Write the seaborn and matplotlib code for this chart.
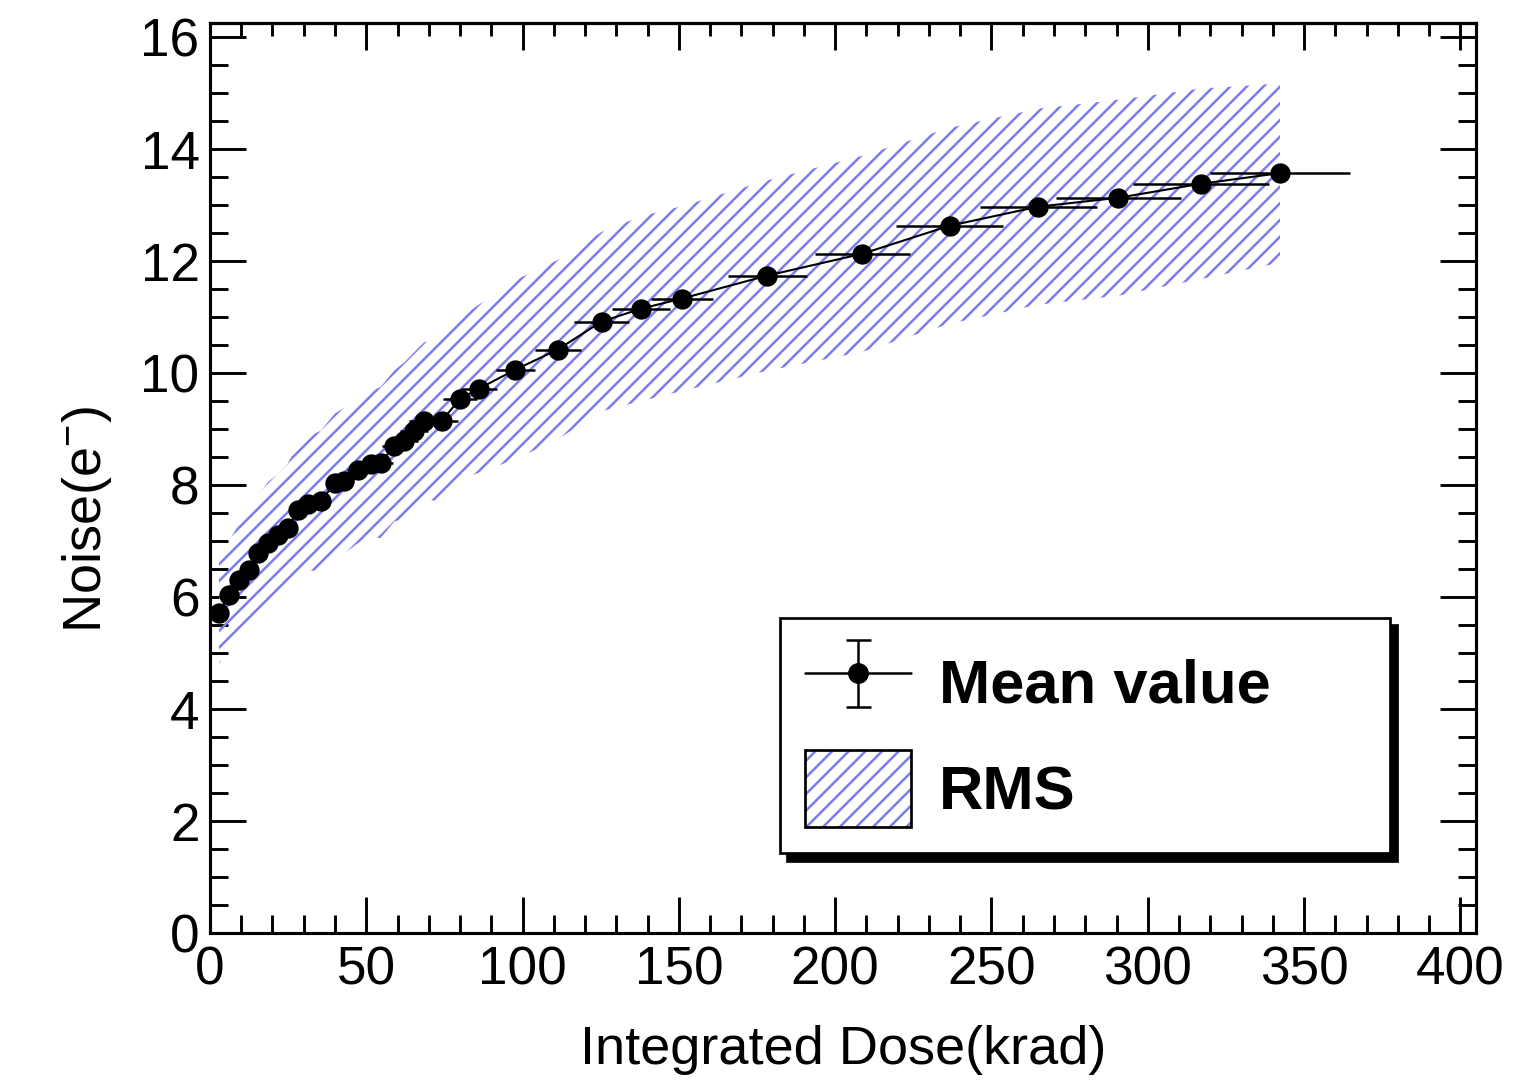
import numpy as np
import pandas as pd
import matplotlib
matplotlib.use("Agg")
import matplotlib.pyplot as plt
import seaborn as sns
from matplotlib.patches import Patch
from matplotlib.legend_handler import HandlerTuple, HandlerErrorbar
from matplotlib.container import ErrorbarContainer
from matplotlib.ticker import MultipleLocator

# ---- data ----
dose = [2.9, 6.0, 9.2, 12.4, 15.5, 18.7, 21.9, 25.0, 28.2, 31.4, 35.5, 40.0,
        43.0, 47.3, 51.4, 54.6, 59.0, 62.2, 65.3, 68.5, 74.2, 80.0, 86.0,
        97.7, 111.3, 125.3, 138.0, 151.0, 178.3, 208.7, 236.6, 264.9, 290.6,
        317.0, 342.3]
noise = [5.71, 6.03, 6.30, 6.48, 6.78, 6.96, 7.10, 7.24, 7.55, 7.67, 7.72, 8.03,
         8.08, 8.26, 8.38, 8.40, 8.70, 8.79, 8.97, 9.15, 9.15, 9.54, 9.72,
         10.06, 10.42, 10.92, 11.15, 11.33, 11.74, 12.13, 12.63, 12.97, 13.13,
         13.38, 13.57]
dose_err = [0.2, 0.4, 0.6, 0.9, 1.1, 1.3, 1.5, 1.7, 2.0, 2.2, 2.5, 2.8,
            3.0, 3.3, 3.6, 3.8, 4.1, 4.4, 4.6, 4.8, 5.2, 5.5, 5.8,
            6.3, 7.4, 8.9, 9.3, 10.0, 12.6, 15.2, 17.0, 18.7, 20.0,
            21.7, 22.5]
noise_err = [0.05] * 35
rms = [0.9, 0.95, 1.0, 1.0, 1.05, 1.1, 1.1, 1.15, 1.2, 1.2, 1.25, 1.25,
       1.3, 1.3, 1.3, 1.35, 1.35, 1.4, 1.4, 1.4, 1.45, 1.45, 1.5,
       1.6, 1.6, 1.6, 1.65, 1.65, 1.7, 1.75, 1.75, 1.75, 1.75,
       1.7, 1.6]
x_ticks = [0, 50, 100, 150, 200, 250, 300, 350, 400]
y_ticks = [0, 2, 4, 6, 8, 10, 12, 14, 16]

df = pd.DataFrame({"dose": dose, "noise": noise, "dose_err": dose_err,
                   "noise_err": noise_err, "rms": rms})

# ---- style ----
sns.set_theme(style="ticks")
plt.rcParams["font.family"] = ["Liberation Sans", "DejaVu Sans"]
plt.rcParams["mathtext.fontset"] = "custom"
plt.rcParams["mathtext.rm"] = "Liberation Sans"
plt.rcParams["mathtext.it"] = "Liberation Sans:italic"
plt.rcParams["hatch.linewidth"] = 1.2
plt.rcParams["text.color"] = "black"
plt.rcParams["axes.labelcolor"] = "black"
HATCH_C = "#7c7cf0"

DPI = 150
fig = plt.figure(figsize=(1538 / DPI, 1082 / DPI), dpi=DPI, facecolor="white")
ax = fig.add_axes([0.1365, 0.1377, 0.8232, 0.841])
ax.set_facecolor("white")

# RMS band
ax.fill_between(df["dose"], df["noise"] - df["rms"], df["noise"] + df["rms"],
                facecolor="none", edgecolor=HATCH_C, hatch="///", linewidth=0,
                zorder=1)

# connecting line
sns.lineplot(data=df, x="dose", y="noise", color="black", linewidth=1.0,
             sort=False, estimator=None, ax=ax, zorder=3)

# error bars
ax.errorbar(df["dose"], df["noise"], xerr=df["dose_err"], yerr=df["noise_err"],
            fmt="none", ecolor="black", elinewidth=1.2, capsize=0, zorder=4)

# markers
sns.scatterplot(data=df, x="dose", y="noise", color="black", edgecolor="black",
                s=95, linewidth=0, ax=ax, zorder=5)

# ---- axes ----
ax.set_xlim(0, 405)
ax.set_ylim(0, 16.25)
ax.set_xticks(x_ticks)
ax.set_yticks(y_ticks)
ax.xaxis.set_minor_locator(MultipleLocator(10))
ax.yaxis.set_minor_locator(MultipleLocator(0.5))
ax.tick_params(which="both", direction="in", top=False, right=True,
               width=1.4, color="black", labelsize=25.5, labelcolor="black")
ax.tick_params(which="major", length=17.5)
ax.tick_params(which="minor", length=8.8)
ax.tick_params(axis="y", which="major", pad=5)
ax.tick_params(axis="x", which="major", pad=6)
for sp in ax.spines.values():
    sp.set_linewidth(1.5)
    sp.set_color("black")
    sp.set_visible(True)

# top axis with shorter ticks
sec = ax.secondary_xaxis("top")
sec.set_xticks(x_ticks)
sec.xaxis.set_minor_locator(MultipleLocator(10))
sec.tick_params(which="both", direction="in", width=1.4, color="black",
                labeltop=False)
sec.tick_params(which="major", length=13)
sec.tick_params(which="minor", length=6)
sec.spines["top"].set_linewidth(1.5)

ax.set_xlabel("Integrated Dose(krad)", fontsize=26, labelpad=14, color="black")
ax.set_ylabel("Noise(e$^{-}$)", fontsize=26, color="black")
ax.yaxis.set_label_coords(-0.076, 0.455)
ax.grid(False)

# ---- legend ----
eb = ax.errorbar([np.nan], [np.nan], yerr=[1], fmt="-o", color="black",
                 ms=9, lw=1.2, elinewidth=1.2, capsize=6, capthick=1.2)
p_hatch = Patch(facecolor="white", edgecolor=HATCH_C, hatch="///", linewidth=0)
p_border = Patch(facecolor="none", edgecolor="black", linewidth=1.3)
leg = ax.legend([eb, (p_hatch, p_border)], ["Mean value", "RMS"],
                handler_map={tuple: HandlerTuple(ndivide=1, pad=0),
                             ErrorbarContainer: HandlerErrorbar(xerr_size=0.5, yerr_size=0.55)},
                loc="upper left", bbox_to_anchor=(0.45, 0.089, 0.482, 0.257),
                mode="expand", borderaxespad=0,
                prop={"weight": "bold", "size": 29.5}, labelcolor="black",
                frameon=True, fancybox=False, framealpha=1,
                edgecolor="black", facecolor="white",
                shadow={"ox": 3.5, "oy": -3.5, "color": "black", "alpha": 1},
                handlelength=1.72, handleheight=1.55, handletextpad=0.45,
                labelspacing=0.48, borderpad=0.42)
leg.get_frame().set_linewidth(1.3)
leg.set_zorder(10)

fig.savefig("out.png", dpi=DPI, facecolor="white")
